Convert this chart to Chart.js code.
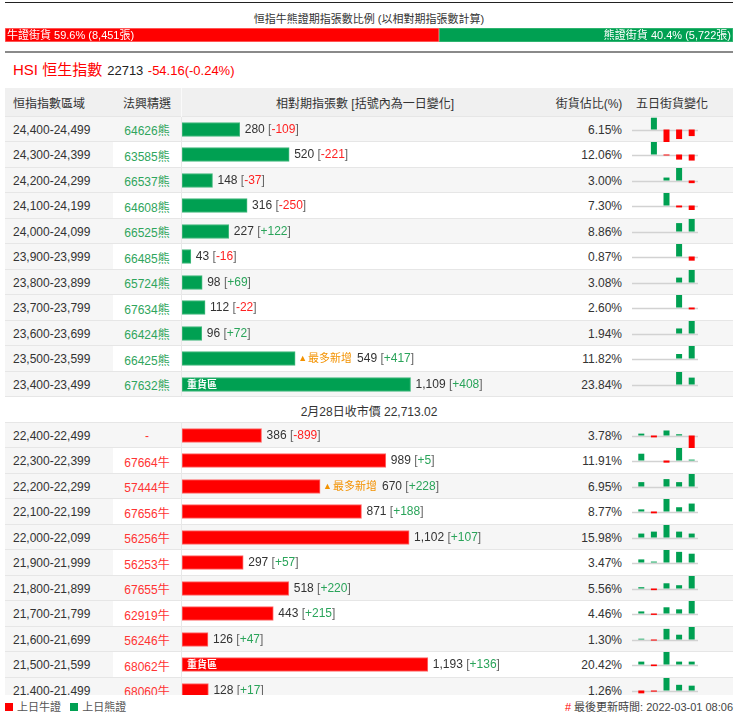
<!DOCTYPE html>
<html>
<head>
<meta charset="utf-8">
<script src="https://cdn.jsdelivr.net/npm/chart.js@4.4.1/dist/chart.umd.min.js"></script>
<style>
body { margin: 0; width: 744px; height: 720px; overflow: hidden; background: #fff; position: relative;
       font-family: "Liberation Sans", "Noto Sans CJK TC", sans-serif; color: #333; }
#topLine { position: absolute; left: 5px; top: 2px; width: 728px; height: 1px; background: #222; }
#ratioTitle { position: absolute; left: 5px; top: 12px; width: 728px; text-align: center; font-size: 11px; line-height: 14px; }
#ratioBox { position: absolute; left: 5px; top: 28px; width: 728px; height: 14px; }
#midLine { position: absolute; left: 5px; top: 51px; width: 728px; height: 2px; background: #8a8a8a; }
#hsi { position: absolute; left: 13px; top: 60px; line-height: 20px; white-space: nowrap; }
#hsi .name { font-size: 15px; color: #f00; }
#hsi .px { font-size: 13px; color: #222; margin-left: 5px; }
#hsi .chg { font-size: 13px; color: #f00; }
#table { position: absolute; left: 5px; top: 88px; width: 728px; height: 607px; overflow: hidden; }
.row { display: flex; height: 25.5px; font-size: 12px; }
.row > div { box-shadow: inset 0 -1px 0 #e6e6e6; display: flex; align-items: center; box-sizing: border-box; padding-top: 1px; }
.row.alt > div { background: #f6f6f6; }
.head { height: 28.5px; }
.head > div { background: #f0f0f0 !important; color: #333; }
.c1 { width: 108px; padding-left: 8px; background: #f6f6f6; }
.c2 { width: 68px; justify-content: center; }
.c3 { width: 367px; border-left: 1px solid #e8e8e8; padding-top: 0 !important; }
.head .c3 { justify-content: center; border-left: 1px solid #fafafa; padding-top: 1px !important; }
.c4 { width: 82px; justify-content: flex-end; padding-right: 8px; }
.head .c4 { justify-content: center; padding-right: 0; }
.c5 { width: 103px; padding-top: 0 !important; }
.head .c5 { padding-left: 6px; padding-top: 1px !important; }
.divider > div { width: 728px; justify-content: center; background: #fff; }
canvas { display: block; }
#legend { position: absolute; left: 5px; top: 700px; font-size: 11px; line-height: 15px; color: #555; white-space: nowrap; }
#legend i { display: inline-block; width: 8px; height: 8px; margin-right: 4px; }
#updated { position: absolute; right: 11px; top: 700px; font-size: 11px; line-height: 15px; color: #444; white-space: nowrap; }
#updated b { color: #f00; font-weight: normal; margin-right: 3px; }
</style>
</head>
<body>
<div id="topLine"></div>
<div id="ratioTitle">恒指牛熊證期指張數比例 (以相對期指張數計算)</div>
<div id="ratioBox"><canvas id="ratio" width="728" height="14"></canvas></div>
<div id="midLine"></div>
<div id="hsi"><span class="name">HSI 恒生指數</span><span class="px">22713</span> <span class="chg">-54.16(-0.24%)</span></div>
<div id="table"></div>
<div id="legend"><i style="background:#f00"></i>上日牛證 &nbsp;&nbsp;<i style="background:#00a052"></i>上日熊證</div>
<div id="updated"><b>#</b>最後更新時間: 2022-03-01 08:06</div>

<script>
const bullTotal = 8451;
const bearTotal = 5722;

const bearRanges = ['24,400-24,499', '24,300-24,399', '24,200-24,299', '24,100-24,199', '24,000-24,099',
    '23,900-23,999', '23,800-23,899', '23,700-23,799', '23,600-23,699', '23,500-23,599', '23,400-23,499'];
const bearCodes = ['64626熊', '63585熊', '66537熊', '64608熊', '66525熊', '66485熊', '65724熊', '67634熊',
    '66424熊', '66425熊', '67632熊'];
const bearCount = [280, 520, 148, 316, 227, 43, 98, 112, 96, 549, 1109];
const bearChange = [-109, -221, -37, -250, 122, -16, 69, -22, 72, 417, 408];
const bearShare = ['6.15', '12.06', '3.00', '7.30', '8.86', '0.87', '3.08', '2.60', '1.94', '11.82', '23.84'];
const bearTags = ['', '', '', '', '', '', '', '', '', '最多新增', '重貨區'];
const bearFiveDay = [
    [0, 195, -207, -158, -109],
    [0, 455, -35, -186, -221],
    [0, 0, 41, 174, -37],
    [0, 0, 690, -106, -250],
    [0, 0, 0, 82, 122],
    [0, 0, 0, 48, -16],
    [0, 0, 0, 27, 69],
    [0, 0, 0, 143, -22],
    [0, 0, 0, 29, 72],
    [0, 0, 0, 150, 417],
    [0, 0, 0, 740, 408]
];

const closeText = '2月28日收市價 22,713.02';

const bullRanges = ['22,400-22,499', '22,300-22,399', '22,200-22,299', '22,100-22,199', '22,000-22,099',
    '21,900-21,999', '21,800-21,899', '21,700-21,799', '21,600-21,699', '21,500-21,599', '21,400-21,499'];
const bullCodes = ['-', '67664牛', '57444牛', '67656牛', '56256牛', '56253牛', '67655牛', '62919牛',
    '56246牛', '68062牛', '68060牛'];
const bullCount = [386, 989, 670, 871, 1102, 297, 518, 443, 126, 1193, 128];
const bullChange = [-899, 5, 228, 188, 107, 57, 220, 215, 47, 136, 17];
const bullShare = ['3.78', '11.91', '6.95', '8.77', '15.98', '3.47', '5.56', '4.46', '1.30', '20.42', '1.26'];
const bullTags = ['', '', '最多新增', '', '', '', '', '', '', '重貨區', ''];
const bullFiveDay = [
    [135, -135, 360, 90, -899],
    [38, 0, -12, 70, 5],
    [80, 0, 135, 80, 228],
    [50, -43, 296, 101, 188],
    [107, 160, 340, 160, 107],
    [20, 6, 81, 69, 57],
    [23, -29, 92, 58, 220],
    [36, -24, 107, 72, 215],
    [3, -4, 40, 18, 47],
    [136, -76, 590, 136, 136],
    [-10, -4, 44, 20, 17]
];

const dayLabels = ['D-4', 'D-3', 'D-2', 'D-1', 'D'];
const countAxisMax = 1776;

const RED = '#ff0000';
const GREEN = '#00a052';
const FONT = '"Liberation Sans", "Noto Sans CJK TC", sans-serif';

Chart.defaults.font.family = FONT;
Chart.defaults.animation = false;

// top ratio bar
const ratioText = {
    id: 'ratioText',
    afterDatasetsDraw(chart) {
        const ctx = chart.ctx;
        const total = bullTotal + bearTotal;
        const bull = chart.getDatasetMeta(0).data[0];
        const bear = chart.getDatasetMeta(1).data[0];
        ctx.save();
        ctx.font = '11px ' + FONT;
        ctx.fillStyle = '#fff';
        ctx.textBaseline = 'middle';
        ctx.textAlign = 'left';
        ctx.fillText('牛證街貨 ' + (bullTotal / total * 100).toFixed(1) + '% (' + bullTotal.toLocaleString('en-US') + '張)', bull.base + 2, bull.y + 0.5);
        ctx.textAlign = 'right';
        ctx.fillText('熊證街貨 ' + (bearTotal / total * 100).toFixed(1) + '% (' + bearTotal.toLocaleString('en-US') + '張)', bear.x - 2, bear.y + 0.5);
        ctx.restore();
    }
};

new Chart(document.getElementById('ratio'), {
    type: 'bar',
    data: {
        labels: ['街貨'],
        datasets: [
            { label: '牛證街貨', data: [bullTotal], backgroundColor: RED, borderColor: '#ff7070', borderWidth: 1, borderSkipped: false },
            { label: '熊證街貨', data: [bearTotal], backgroundColor: GREEN, borderColor: '#3dbb7a', borderWidth: 1, borderSkipped: false }
        ]
    },
    options: {
        indexAxis: 'y',
        responsive: false,
        events: [],
        layout: { padding: 0 },
        datasets: { bar: { barPercentage: 1, categoryPercentage: 1 } },
        scales: {
            x: { display: false, stacked: true, min: 0, max: bullTotal + bearTotal },
            y: { display: false, stacked: true }
        },
        plugins: { legend: { display: false }, tooltip: { enabled: false } }
    },
    plugins: [ratioText]
});

// labels after each count bar
const barLabels = {
    id: 'barLabels',
    afterDatasetsDraw(chart, args, opts) {
        const ctx = chart.ctx;
        const bar = chart.getDatasetMeta(0).data[0];
        const y = bar.y + 0.5;
        let x = bar.x + 5;
        ctx.save();
        ctx.textBaseline = 'middle';
        ctx.textAlign = 'left';
        if (opts.tag === '重貨區') {
            ctx.font = 'bold 10px ' + FONT;
            ctx.fillStyle = '#fff';
            ctx.fillText(opts.tag, bar.base + 5, y);
        }
        if (opts.tag === '最多新增') {
            ctx.fillStyle = '#f39200';
            ctx.font = '9px ' + FONT;
            ctx.fillText('▲', bar.x + 3, y);
            x = bar.x + 3 + ctx.measureText('▲').width + 1;
            ctx.font = '11px ' + FONT;
            ctx.fillText(opts.tag, x, y);
            x += ctx.measureText(opts.tag).width + 5;
        }
        const chg = (opts.change > 0 ? '+' : '') + opts.change;
        const parts = [
            [opts.count.toLocaleString('en-US') + ' ', '#333'],
            ['[', '#666'],
            [chg, opts.change < 0 ? '#f22' : '#2aa45a'],
            [']', '#666']
        ];
        ctx.font = '12px ' + FONT;
        parts.forEach(p => {
            ctx.fillStyle = p[1];
            ctx.fillText(p[0], x, y);
            x += ctx.measureText(p[0]).width;
        });
        ctx.restore();
    }
};

function countChart(canvas, range, count, change, tag, color, edge) {
    return new Chart(canvas, {
        type: 'bar',
        data: { labels: [range], datasets: [{ data: [count], backgroundColor: color, borderColor: edge, borderWidth: 1, borderSkipped: false, barThickness: 14 }] },
        options: {
            indexAxis: 'y',
            responsive: false,
            events: [],
            layout: { padding: 0 },
            scales: {
                x: { display: false, min: 0, max: countAxisMax },
                y: { display: false }
            },
            plugins: {
                legend: { display: false },
                tooltip: { enabled: false },
                barLabels: { count, change, tag }
            }
        },
        plugins: [barLabels]
    });
}

// zero line under the five day bars
const baseLine = {
    id: 'baseLine',
    beforeDatasetsDraw(chart) {
        const ctx = chart.ctx;
        const y = Math.round(chart.scales.y.getPixelForValue(0)) + 0.5;
        ctx.save();
        ctx.strokeStyle = '#d2d2d2';
        ctx.lineWidth = 1.5;
        ctx.beginPath();
        ctx.moveTo(chart.chartArea.left - 3, y);
        ctx.lineTo(chart.chartArea.right, y);
        ctx.stroke();
        ctx.restore();
    }
};

function fiveDayChart(canvas, vals) {
    const m = Math.max(...vals.map(v => Math.abs(v))) || 1;
    // days with no change get no bar
    const shown = vals.map(v => v === 0 ? null : v);
    return new Chart(canvas, {
        type: 'bar',
        data: { labels: dayLabels, datasets: [{ data: shown, backgroundColor: vals.map(v => v >= 0 ? GREEN : RED), barThickness: 6, inflateAmount: 0 }] },
        options: {
            responsive: false,
            events: [],
            layout: { padding: { left: 5, right: 35, top: 0, bottom: 0 } },
            scales: {
                x: { display: false },
                y: { display: false, min: -m, max: m }
            },
            plugins: { legend: { display: false }, tooltip: { enabled: false } }
        },
        plugins: [baseLine]
    });
}

const table = document.getElementById('table');
let rowIndex = 0;

function addHead() {
    const r = document.createElement('div');
    r.className = 'row head';
    r.innerHTML = '<div class="c1">恒指指數區域</div><div class="c2">法興精選</div>' +
        '<div class="c3">相對期指張數 [括號內為一日變化]</div><div class="c4">街貨佔比(%)</div><div class="c5">五日街貨變化</div>';
    table.appendChild(r);
}

function addRow(range, code, count, change, share, tag, five, isBull) {
    const r = document.createElement('div');
    r.className = 'row' + (rowIndex % 2 === 0 ? ' alt' : '');
    rowIndex++;
    const codeColor = isBull ? '#f33' : '#2fa55c';
    r.innerHTML = '<div class="c1">' + range + '</div>' +
        '<div class="c2" style="color:' + codeColor + '">' + code + '</div>' +
        '<div class="c3"><canvas width="366" height="25"></canvas></div>' +
        '<div class="c4">' + share + '%</div>' +
        '<div class="c5"><canvas width="103" height="25"></canvas></div>';
    table.appendChild(r);
    const canvases = r.querySelectorAll('canvas');
    countChart(canvases[0], range, count, change, tag,
        isBull ? RED : GREEN, isBull ? '#ff6a6a' : '#44b97e');
    fiveDayChart(canvases[1], five);
}

function addDivider(text) {
    const r = document.createElement('div');
    r.className = 'row divider';
    r.innerHTML = '<div>' + text + '</div>';
    table.appendChild(r);
    rowIndex++;
}

addHead();
bearRanges.forEach((range, i) => addRow(range, bearCodes[i], bearCount[i], bearChange[i], bearShare[i], bearTags[i], bearFiveDay[i], false));
addDivider(closeText);
bullRanges.forEach((range, i) => addRow(range, bullCodes[i], bullCount[i], bullChange[i], bullShare[i], bullTags[i], bullFiveDay[i], true));
</script>
</body>
</html>
